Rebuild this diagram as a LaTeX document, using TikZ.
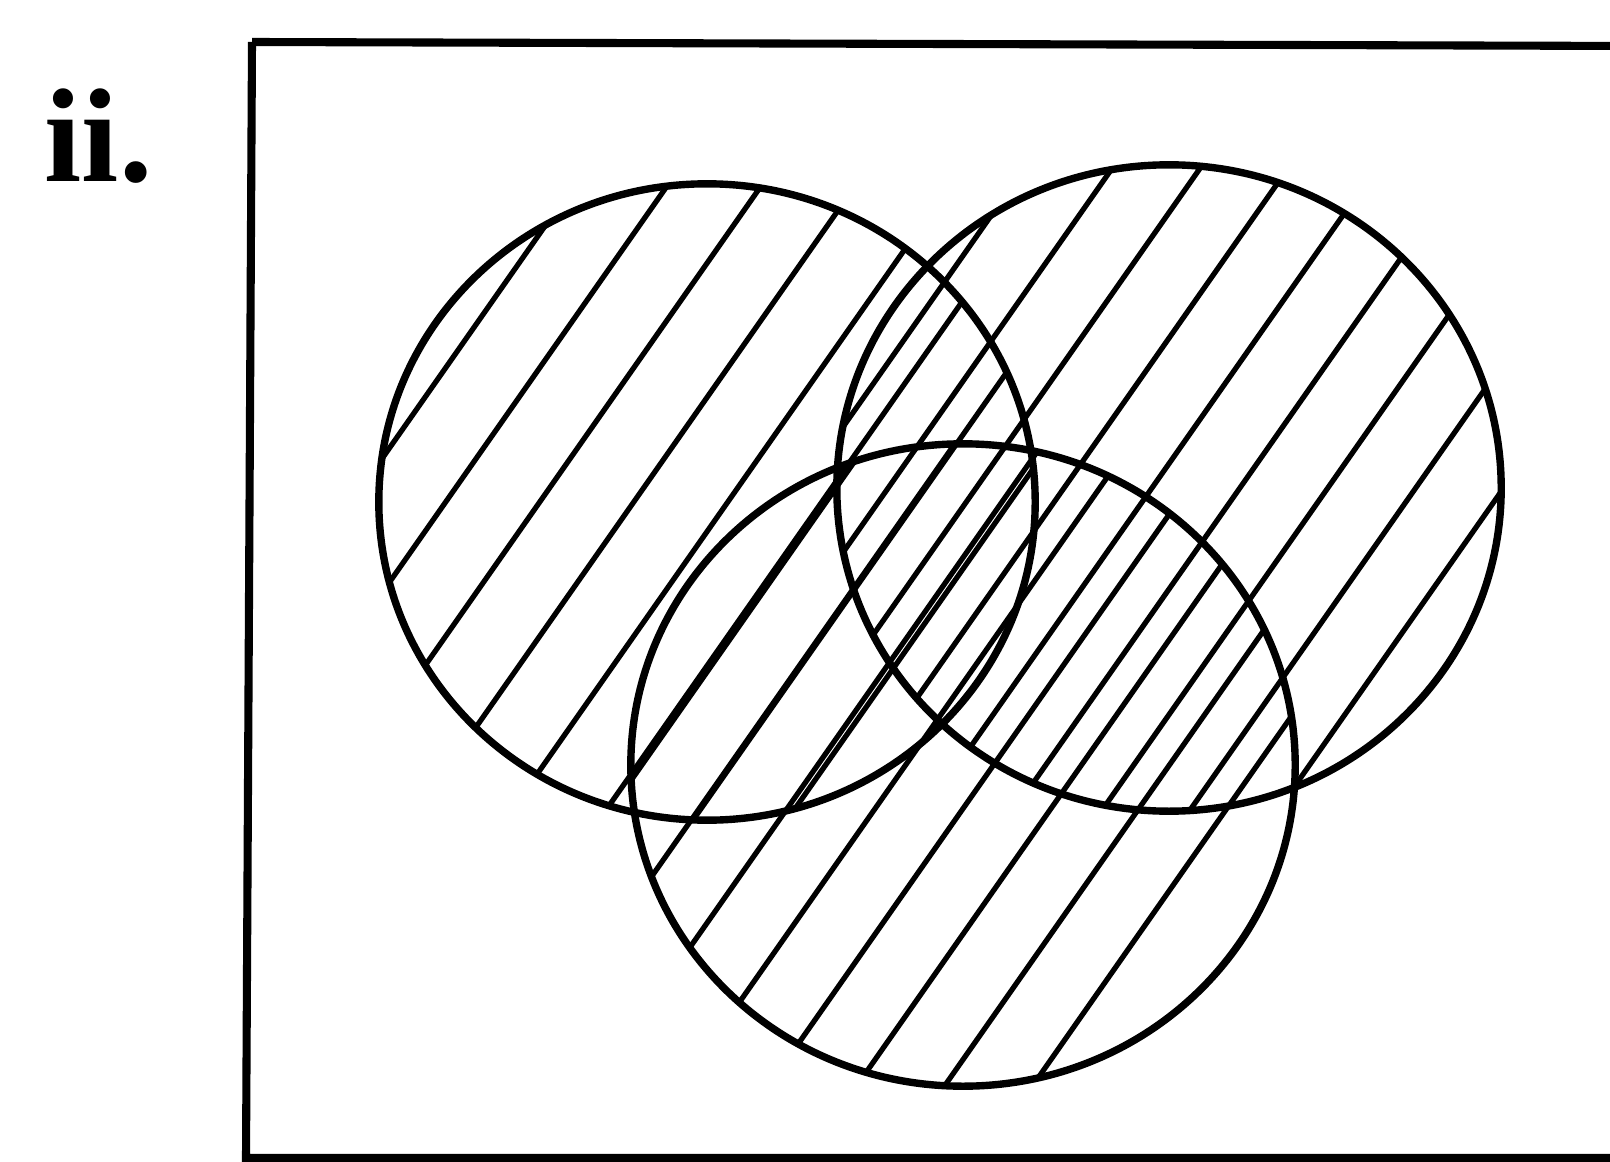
\documentclass[tikz,border=0pt]{standalone}
\usepackage{fontspec}
\setmainfont{Liberation Serif}
\usetikzlibrary{calc}

\begin{document}
\begin{tikzpicture}[
        x=0.01cm, y=-0.01cm,
        frame/.style={draw, line width=2.3pt},
        venn/.style={draw, line width=2.1pt},
        hatch/.style={line width=1.5pt},
        lbl/.style={font=\fontsize{38}{40}\selectfont\bfseries, inner sep=0pt, anchor=base west},
    ]
    \useasboundingbox (0,0) rectangle (1610,1161);
    \clip (0,0) rectangle (1610,1161);

    % label and universal set
    \node[lbl] (tag) at (44,182) {ii.};
    \draw[frame] (252,42) -- (1640,46);
    \draw[frame] (252,42) -- (246,1158) -- (1640,1158);

    % centres of the three sets
    \coordinate (cA) at (707,502);
    \coordinate (cB) at (1169,488);
    \coordinate (cC) at (963,765);

    % hatching, each set on its own
    \foreach \cx/\cy/\rx/\ry/\off/\gap/\last in {707/502/3.28/3.18/17/77/5,
                                               1169/488/3.32/3.23/-14/72/5,
                                               963/765/3.32/3.21/25/72/3}{
        \begin{scope}
            \clip (\cx,\cy) ellipse [x radius=\rx cm, y radius=\ry cm];
            \foreach \k in {-5,...,\last}{
                \pgfmathsetmacro{\p}{\k*\gap+\off}
                \draw[hatch] ({\cx+0.819*\p-241},{\cy+0.574*\p+344})
                          -- ({\cx+0.819*\p+241},{\cy+0.574*\p-344});
            }
        \end{scope}
    }

    % outlines of the sets
    \draw[venn] (cA) ellipse [x radius=3.28cm, y radius=3.18cm];
    \draw[venn] (cB) ellipse [x radius=3.32cm, y radius=3.23cm];
    \draw[venn] (cC) ellipse [x radius=3.32cm, y radius=3.21cm];
\end{tikzpicture}
\end{document}
